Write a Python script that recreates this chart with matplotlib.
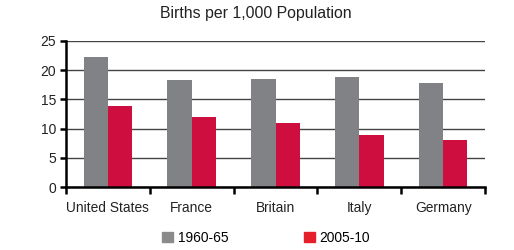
import matplotlib
matplotlib.use("Agg")
import matplotlib.pyplot as plt
from matplotlib.patches import Patch
import numpy as np

categories = ["United States", "France", "Britain", "Italy", "Germany"]
series_names = ["1960-65", "2005-10"]
v1960 = [22.2, 18.3, 18.5, 18.8, 17.8]
v2005 = [13.9, 12.0, 11.0, 8.9, 8.1]
yticks = [0, 5, 10, 15, 20, 25]

plt.rcParams['font.family'] = ['Liberation Sans', 'DejaVu Sans']

fig = plt.figure(figsize=(5.14, 2.5), dpi=100)
ax = fig.add_axes([66/514, 1-187.3/250, (485-66)/514, (187.3-40.7)/250])

x = np.arange(len(categories)) + 0.5
w = 0.29
ax.bar(x - w/2, v1960, width=w, color="#818286", zorder=3)
ax.bar(x + w/2, v2005, width=w, color="#CE0E3F", zorder=3)

ax.set_xlim(0, len(categories))
ax.set_ylim(0, 25)
ax.set_yticks(yticks)
ax.set_yticklabels([str(t) for t in yticks], fontsize=10, color="#222222")
ax.yaxis.grid(True, color="#444444", linewidth=1.0, zorder=0)
ax.set_axisbelow(True)

ax.set_xticks(x)
ax.set_xticklabels(categories, fontsize=9.9, color="#222222")
ax.tick_params(axis='x', which='major', length=0, pad=10)
ax.set_xticks(np.arange(len(categories) + 1), minor=True)
ax.tick_params(axis='x', which='minor', length=5, width=1.8, color="black", direction='out')
ax.tick_params(axis='y', length=4, width=1.8, color="black", pad=3)

for s in ['top', 'right']:
    ax.spines[s].set_visible(False)
for s in ['left', 'bottom']:
    ax.spines[s].set_linewidth(1.8)
    ax.spines[s].set_color("black")
    ax.spines[s].set_zorder(4)

fig.text(0.498, 1-13.5/250, "Births per 1,000 Population", ha='center', va='center',
         fontsize=11.4, color="#222222")

handles = [Patch(color="#8a8a8a", label=series_names[0]),
           Patch(color="#e5202a", label=series_names[1])]
fig.legend(handles=handles, loc='center', bbox_to_anchor=(0.5175, 1-238/250), ncol=2,
           frameon=False, fontsize=9.9, handlelength=0.8, handleheight=0.8,
           handletextpad=0.3, columnspacing=5.5)

fig.savefig("out.png", dpi=100)
